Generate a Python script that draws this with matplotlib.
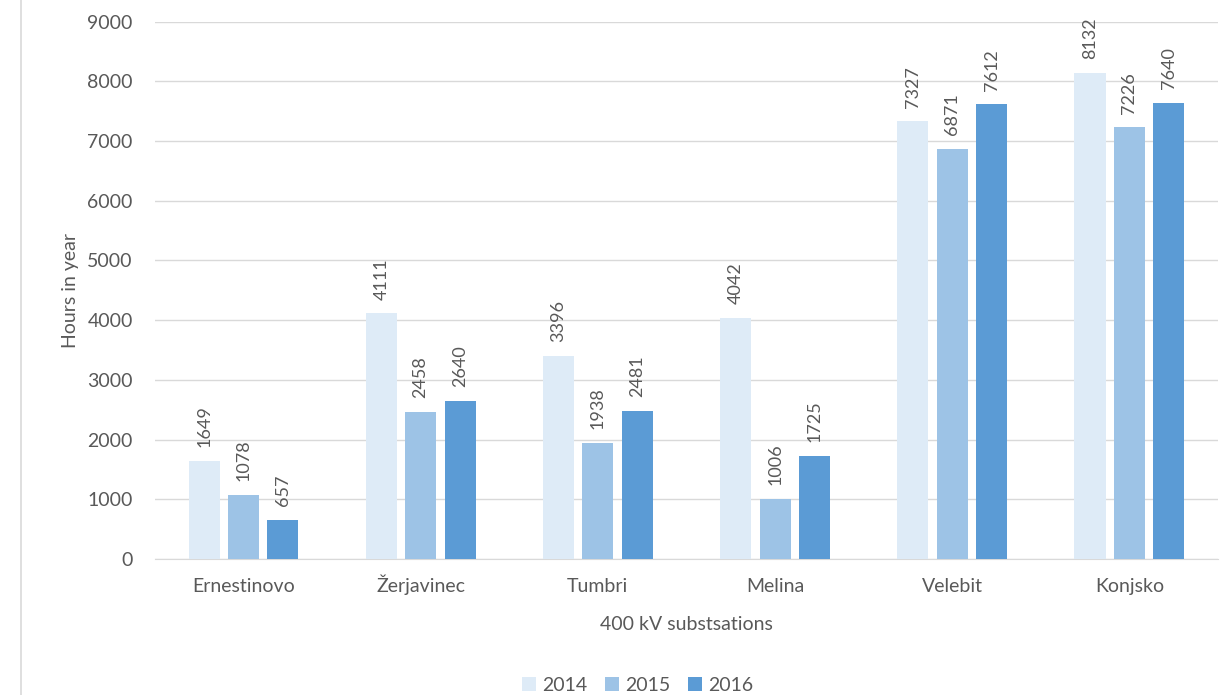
import numpy as np
import matplotlib.pyplot as plt
from matplotlib.lines import Line2D

# Hours in year per 400 kV substation
stations = ['Ernestinovo', 'Žerjavinec', 'Tumbri', 'Melina', 'Velebit', 'Konjsko']
years = ['2014', '2015', '2016']
hours_2014 = [1649, 4111, 3396, 4042, 7327, 8132]
hours_2015 = [1078, 2458, 1938, 1006, 6871, 7226]
hours_2016 = [657, 2640, 2481, 1725, 7612, 7640]
yticks = [0, 1000, 2000, 3000, 4000, 5000, 6000, 7000, 8000, 9000]

colors = ['#DEEBF7', '#9DC3E6', '#5B9BD5']
text_color = '#595959'
plt.rcParams['font.family'] = ['Lato', 'DejaVu Sans']

fig = plt.figure(figsize=(12.26, 6.95), dpi=100)
ax = fig.add_axes([0.1264, 0.1957, 0.867, 0.7733])

x = np.arange(len(stations))
width = 0.175
step = 0.222
for i, (vals, c, yr) in enumerate(zip([hours_2014, hours_2015, hours_2016], colors, years)):
    pos = x + (i - 1) * step
    bars = ax.bar(pos, vals, width, color=c, label=yr, zorder=3)
    for b, v in zip(bars, vals):
        ax.annotate(str(v), (b.get_x() + b.get_width() / 2, v),
                    xytext=(0, 10), textcoords='offset points',
                    rotation=90, ha='center', va='bottom',
                    fontsize=13, color=text_color)

ax.set_xlim(-0.5, len(stations) - 0.5)
ax.set_ylim(0, 9000)
ax.set_yticks(yticks)
ax.set_xticks(x)
ax.set_xticklabels(stations, va='baseline')
ax.grid(axis='y', color='#D9D9D9', linewidth=1, zorder=0)
for s in ['top', 'right', 'left']:
    ax.spines[s].set_visible(False)
ax.spines['bottom'].set_color('#D9D9D9')
ax.tick_params(axis='both', length=0, labelsize=14, colors=text_color)
ax.tick_params(axis='y', pad=16)
ax.tick_params(axis='x', pad=24)
ax.set_xlabel('400 kV substsations', fontsize=14, color=text_color, labelpad=15)
ax.set_ylabel('Hours in year', fontsize=14, color=text_color, labelpad=6)

fig.legend(*ax.get_legend_handles_labels(), loc='center', bbox_to_anchor=(0.52, 0.014),
           ncol=3, frameon=False, fontsize=14, labelcolor=text_color,
           handlelength=0.75, handleheight=0.75, handletextpad=0.3,
           columnspacing=0.9, borderaxespad=0, borderpad=0)

# thin frame line at the left edge
fig.add_artist(Line2D([21 / 1226, 21 / 1226], [0, 1], color='#D9D9D9', linewidth=1.2,
                      transform=fig.transFigure))

fig.savefig('out.png', dpi=100)
